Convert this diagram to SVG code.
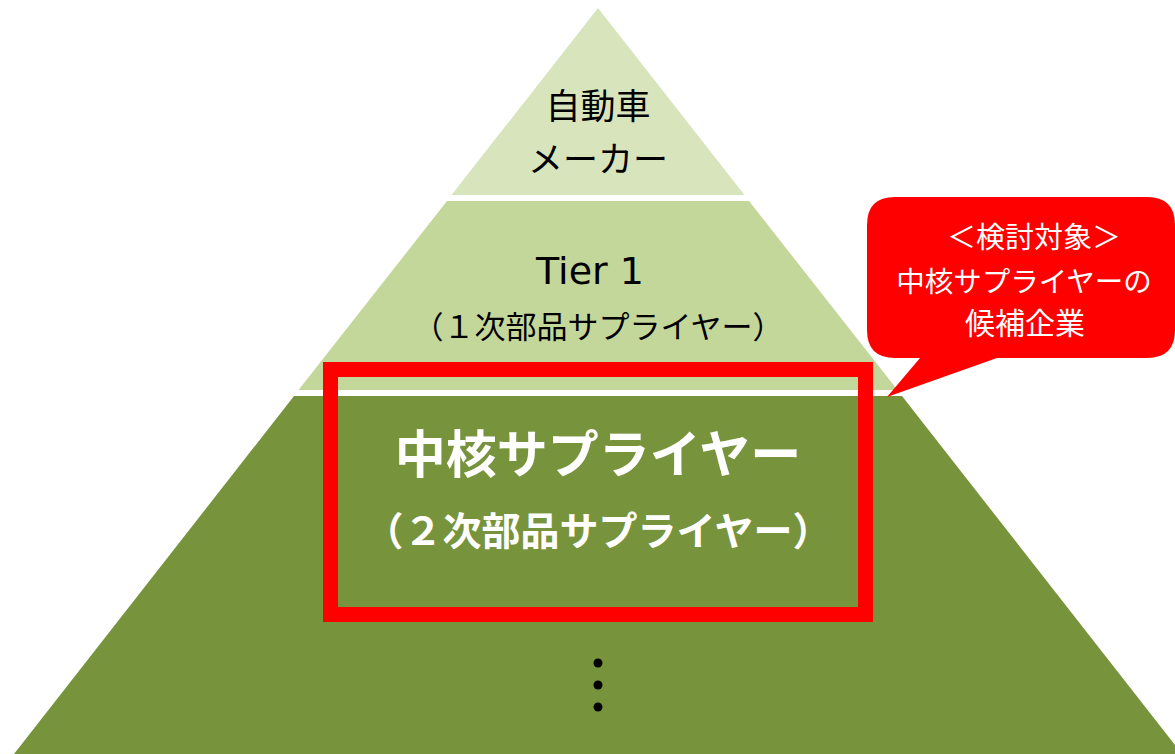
<svg xmlns="http://www.w3.org/2000/svg" width="1175" height="754" viewBox="0 0 1175 754">
<style>
.t{font-family:"Noto Sans CJK JP","Noto Sans",sans-serif;text-anchor:middle}
.dark{fill:#000}
.white{fill:#fff}
.b{font-weight:bold}
</style>
<rect width="1175" height="754" fill="#fff"/>
<g id="tier-maker">
<polygon points="598,8 744.5,195 451.5,195" fill="#D8E4BC"/>
<text class="t dark" x="598" y="119" font-size="35">自動車</text>
<text class="t dark" x="598" y="172" font-size="35">メーカー</text>
</g>
<g id="tier-1">
<polygon points="447,201 749,201 897.5,390 298.5,390" fill="#C4D79B"/>
<text class="t dark" x="590" y="284" font-size="38" style="font-family:'DejaVu Sans',sans-serif">Tier 1</text>
<text class="t dark" x="598" y="338" font-size="31">（１次部品サプライヤー）</text>
</g>
<g id="tier-2">
<polygon points="294,396 902,396 1182,754 14,754" fill="#77933C"/>
<circle cx="598" cy="663" r="4.5" fill="#000"/>
<circle cx="598" cy="685" r="4.5" fill="#000"/>
<circle cx="598" cy="707" r="4.5" fill="#000"/>
</g>
<g id="highlight">
<rect x="330.5" y="369.5" width="535" height="245" fill="none" stroke="#FF0000" stroke-width="15"/>
<text class="t white b" x="598" y="473" font-size="51">中核サプライヤー</text>
<text class="t white b" x="598" y="545" font-size="39">（２次部品サプライヤー）</text>
</g>
<g id="callout">
<path d="M895,197 H1147 Q1175,197 1175,225 V330 Q1175,358 1147,358 H997 L887,397 L920,358 H895 Q867,358 867,330 V225 Q867,197 895,197 Z" fill="#FF0000"/>
<text class="t white" x="1034" y="248" font-size="29">＜検討対象＞</text>
<text class="t white" x="1024" y="292" font-size="28.5">中核サプライヤーの</text>
<text class="t white" x="1025" y="334" font-size="30">候補企業</text>
</g>
</svg>
